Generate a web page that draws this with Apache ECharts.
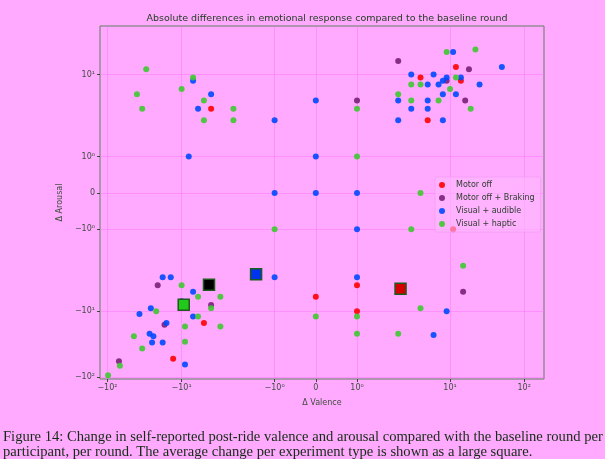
<!DOCTYPE html>
<html>
<head>
<meta charset="utf-8">
<script src="https://cdn.jsdelivr.net/npm/echarts@6/dist/echarts.min.js"></script>
<style>
  html, body { margin: 0; padding: 0; background: #ffaaff; }
  #chart { width: 605px; height: 459px; }
</style>
</head>
<body>
<div id="chart"></div>
<script>
// points are [delta valence, delta arousal]
var seriesNames = ['Motor off', 'Motor off + Braking', 'Visual + audible', 'Visual + haptic'];
var seriesColors = ['#ff0000', '#7a1f7a', '#0048ff', '#40c830'];

var motorOff = [[12,13],[4,9],[14,8],[5,2],[11,-1],[1,-4],[0,-6],[1,-10],[-4,3],[-5,-15],[-13,-53]];
var motorOffBraking = [[2,16],[18,12],[9,8],[16,4],[1,4],[15,-5],[-21,-4],[-4,-8],[-17,-16],[-70,-58]];
var visualAudible = [[11,22],[50,13],[3,10],[6,10],[9,9],[8,8],[14,9],[5,7],[7,7],[25,7],[8,5],[12,5],
  [2,4],[5,4],[3,3],[5,3],[2,2],[8,2],[-1,2],[0,4],[-7,8],[-4,5],[-6,3],[-8,1],[0,1],[-1,0],[0,0],[1,0],
  [1,-1],[-1,-3],[1,-3],[9,-10],[6,-23],[-18,-3],[-14,-3],[-7,-5],[-10,-7],[-26,-9],[-37,-11],[-16,-15],
  [-7,-12],[-27,-22],[-24,-24],[-25,-30],[-18,-30],[-9,-65]];
var visualHaptic = [[9,22],[22,24],[12,9],[3,7],[4,7],[10,6],[2,5],[3,4],[7,4],[19,3],[1,3],[1,1],
  [-30,12],[-7,9],[-40,5],[-10,6],[-5,4],[-34,3],[-2,3],[-5,2],[-2,2],[4,0],[-1,-1],[3,-1],[15,-2],
  [4,-9],[0,-12],[1,-12],[1,-22],[2,-22],[-10,-4],[-6,-6],[-3,-6],[-4,-9],[-22,-10],[-6,-12],[-9,-17],
  [-3,-17],[-44,-24],[-9,-29],[-34,-37],[-68,-68],[-98,-95]];

// average per experiment type (large squares)
var means = [[2.15,-4.5],[-4.27,-3.91],[-1.45,-2.71],[-9.36,-7.91]];
var meanColors = ['#d40000', '#000000', '#0033ee', '#22c81a'];

var xTicks = [-100, -10, -1, 0, 1, 10, 100];
var xTickLabels = ['\u221210\u00b2', '\u221210\u00b9', '\u221210\u2070', '0', '10\u2070', '10\u00b9', '10\u00b2'];
var yTicks = [-100, -10, -1, 0, 1, 10];
var yTickLabels = ['\u221210\u00b2', '\u221210\u00b9', '\u221210\u2070', '0', '10\u2070', '10\u00b9'];
var xLimits = [-126, 185];
var yLimits = [-108, 55];

// symmetric log, linthresh 2, linscale 1
var LT = 2, LS = 1 / (1 - 1 / 10);
function symlog(v) {
    var a = Math.abs(v);
    if (a <= LT) return v * LS;
    return (v < 0 ? -1 : 1) * LT * (LS + Math.log10(a / LT));
}
function tr(pts) {
    return pts.map(function (p) { return [symlog(p[0]), symlog(p[1])]; });
}
function labelFor(ticks, labels) {
    return function (val) {
        for (var i = 0; i < ticks.length; i++) {
            if (Math.abs(symlog(ticks[i]) - val) < 1e-6) return labels[i];
        }
        return '';
    };
}

var chart = echarts.init(document.getElementById('chart'));
var allPts = [motorOff, motorOffBraking, visualAudible, visualHaptic];
var txt = '#3c4c3c';
var series = allPts.map(function (pts, i) {
    return {
        name: seriesNames[i],
        type: 'scatter',
        data: tr(pts),
        symbolSize: 6,
        itemStyle: { color: seriesColors[i], opacity: 0.9 },
        z: 2 + i
    };
});
means.forEach(function (m, i) {
    series.push({
        name: 'mean' + i,
        type: 'scatter',
        data: tr([m]),
        symbol: 'rect',
        symbolSize: 11,
        itemStyle: { color: meanColors[i], borderColor: '#1d5a1d', borderWidth: 1.5, opacity: 1 },
        z: 10
    });
});

var option = {
    backgroundColor: '#ffaaff',
    animation: false,
    textStyle: { fontFamily: 'DejaVu Sans' },
    title: {
        text: 'Absolute differences in emotional response compared to the baseline round',
        left: 322, top: 9, textAlign: 'center',
        textStyle: { fontSize: 9.5, fontWeight: 'normal', color: '#1c3a1c', fontFamily: 'DejaVu Sans' }
    },
    legend: {
        data: seriesNames,
        orient: 'vertical',
        left: 435, top: 177,
        icon: 'circle',
        itemWidth: 6, itemHeight: 6,
        itemGap: 5,
        padding: [4, 6, 4, 4],
        backgroundColor: 'rgba(255,185,255,0.6)',
        borderColor: 'rgba(240,150,240,0.6)',
        borderWidth: 1,
        borderRadius: 2,
        textStyle: { fontSize: 8, color: '#2c3c2c', padding: [0, 0, 0, 6] }
    },
    grid: {
        left: 100, right: 61, top: 26, bottom: 80,
        show: true, borderColor: '#5f7f5f', borderWidth: 1, backgroundColor: 'transparent'
    },
    xAxis: {
        type: 'value',
        min: symlog(xLimits[0]), max: symlog(xLimits[1]),
        name: '\u0394 Valence', nameLocation: 'middle', nameGap: 20,
        nameTextStyle: { fontSize: 8, color: txt },
        axisLine: { show: false, onZero: false },
        axisTick: { show: true, length: 3, lineStyle: { color: '#2f4f2f' }, customValues: xTicks.map(symlog) },
        axisLabel: { fontSize: 8, color: txt, margin: 5, customValues: xTicks.map(symlog), formatter: labelFor(xTicks, xTickLabels) },
        splitLine: { show: true, lineStyle: { color: 'rgba(255,110,255,0.45)', width: 1 } }
    },
    yAxis: {
        type: 'value',
        min: symlog(yLimits[0]), max: symlog(yLimits[1]),
        name: '\u0394 Arousal', nameLocation: 'middle', nameGap: 30,
        nameTextStyle: { fontSize: 8, color: txt },
        axisLine: { show: false, onZero: false },
        axisTick: { show: true, length: 3, lineStyle: { color: '#2f4f2f' }, customValues: yTicks.map(symlog) },
        axisLabel: { fontSize: 8, color: txt, margin: 5, customValues: yTicks.map(symlog), formatter: labelFor(yTicks, yTickLabels) },
        splitLine: { show: true, lineStyle: { color: 'rgba(255,110,255,0.45)', width: 1 } }
    },
    graphic: [
        {
            type: 'text', left: 3, top: 430,
            style: {
                text: 'Figure 14: Change in self-reported post-ride valence and arousal compared with the baseline round per',
                font: '14.6px "Liberation Serif"', fill: '#142c14'
            }
        },
        {
            type: 'text', left: 3, top: 445,
            style: {
                text: 'participant, per round. The average change per experiment type is shown as a large square.',
                font: '14.6px "Liberation Serif"', fill: '#142c14'
            }
        }
    ],
    series: series
};
chart.setOption(option);
</script>
</body>
</html>
